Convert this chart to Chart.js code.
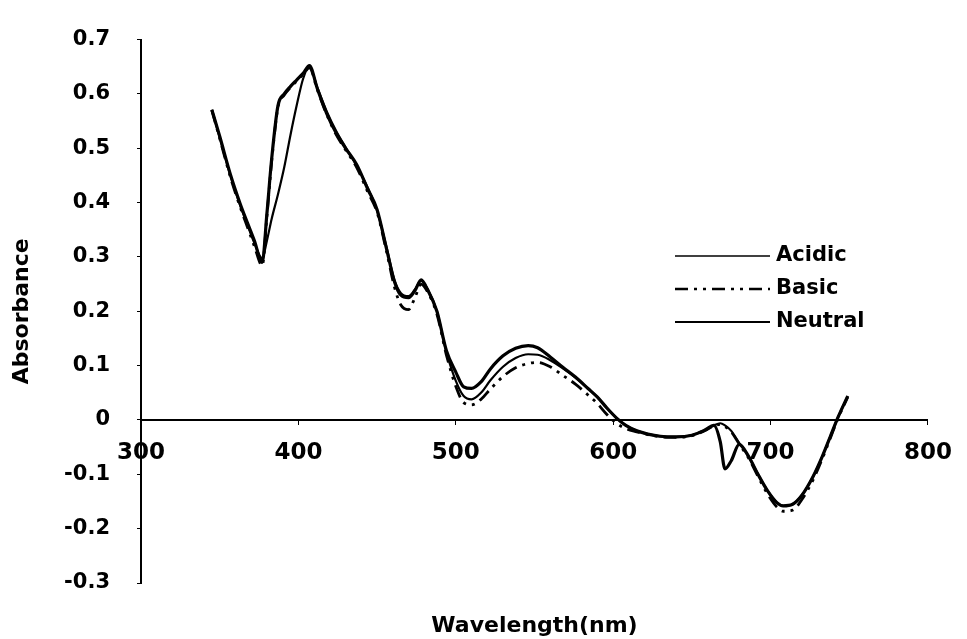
<!DOCTYPE html>
<html>
<head>
<meta charset="utf-8">
<script src="https://cdn.jsdelivr.net/npm/chart.js@4.4.1/dist/chart.umd.min.js"></script>
<style>
  html, body { margin: 0; padding: 0; background: #fff; }
  #wrap { width: 967px; height: 639px; }
</style>
</head>
<body>
<div id="wrap"><canvas id="c" width="967" height="639"></canvas></div>
<script>
// ---- data ----
const wavelengths = [345, 350, 357, 363, 368, 372, 377, 380, 383, 387, 391, 395, 399, 403, 407, 412, 418, 424, 430, 437, 444, 450, 456, 461, 465, 470, 474, 478, 482, 488, 494, 500, 505, 510, 516, 522, 530, 538, 546, 552, 560, 568, 576, 584, 590, 596, 602, 608, 615, 622, 630, 640, 650, 658, 664, 668, 671, 675, 680, 686, 692, 698, 704, 708, 714, 720, 727, 733, 738, 743, 749];

const acidic = [0.571, 0.52, 0.448, 0.395, 0.356, 0.326, 0.298, 0.33, 0.37, 0.415, 0.465, 0.525, 0.58, 0.628, 0.650, 0.612, 0.568, 0.532, 0.502, 0.468, 0.428, 0.385, 0.318, 0.258, 0.234, 0.228, 0.24, 0.256, 0.242, 0.2, 0.125, 0.072, 0.044, 0.038, 0.05, 0.073, 0.098, 0.114, 0.121, 0.12, 0.11, 0.095, 0.078, 0.058, 0.042, 0.022, 0.004, -0.01, -0.02, -0.026, -0.03, -0.031, -0.028, -0.019, -0.01, -0.006, -0.01, -0.02, -0.042, -0.067, -0.1, -0.13, -0.152, -0.158, -0.155, -0.138, -0.104, -0.066, -0.03, 0.006, 0.044];

const basic = [0.57, 0.518, 0.445, 0.392, 0.352, 0.32, 0.284, 0.375, 0.475, 0.575, 0.598, 0.612, 0.624, 0.636, 0.648, 0.608, 0.562, 0.525, 0.497, 0.465, 0.42, 0.382, 0.31, 0.245, 0.212, 0.203, 0.225, 0.25, 0.236, 0.195, 0.12, 0.062, 0.032, 0.028, 0.038, 0.057, 0.08, 0.096, 0.104, 0.106, 0.098, 0.082, 0.066, 0.046, 0.03, 0.01, -0.006, -0.016, -0.022, -0.027, -0.031, -0.032, -0.029, -0.02, -0.011, -0.008, -0.012, -0.022, -0.044, -0.07, -0.104, -0.136, -0.16, -0.168, -0.166, -0.146, -0.11, -0.07, -0.033, 0.004, 0.042];

const neutral = [0.571, 0.522, 0.45, 0.398, 0.36, 0.33, 0.29, 0.38, 0.48, 0.578, 0.6, 0.614, 0.626, 0.638, 0.652, 0.61, 0.564, 0.528, 0.5, 0.47, 0.425, 0.387, 0.315, 0.255, 0.23, 0.225, 0.238, 0.258, 0.24, 0.2, 0.128, 0.088, 0.061, 0.058, 0.07, 0.094, 0.118, 0.132, 0.137, 0.133, 0.116, 0.097, 0.079, 0.058, 0.042, 0.022, 0.004, -0.01, -0.02, -0.026, -0.03, -0.031, -0.028, -0.019, -0.01, -0.04, -0.09, -0.075, -0.045, -0.067, -0.1, -0.13, -0.152, -0.158, -0.155, -0.138, -0.104, -0.066, -0.03, 0.006, 0.044];

const seriesNames = ['Acidic', 'Basic', 'Neutral'];
const xTickRange = [300, 800];
const yTickRange = [-0.3, 0.7];

// ---- build ----
function pts(vals) { return wavelengths.map((w, i) => ({ x: w, y: vals[i] })); }

const FONT = 'DejaVu Sans';
const styles = [
  { borderWidth: 2.2, borderDash: [] },
  { borderWidth: 2.8, borderDash: [13, 6, 3, 6, 3, 6] },
  { borderWidth: 3.2, borderDash: [] }
];
const datasets = [acidic, basic, neutral].map((vals, i) => ({
  label: seriesNames[i],
  data: pts(vals),
  borderColor: '#000',
  backgroundColor: '#000',
  borderWidth: styles[i].borderWidth,
  borderDash: styles[i].borderDash,
  pointRadius: 0,
  fill: false,
  cubicInterpolationMode: 'monotone'
}));

const legendPlugin = {
  id: 'sideLegend',
  afterDraw(chart) {
    const ctx = chart.ctx;
    const rows = [256, 289, 322];
    const lw = [1.5, 2.5, 2];
    ctx.save();
    chart.data.datasets.forEach((ds, i) => {
      const y = rows[i];
      ctx.beginPath();
      ctx.strokeStyle = '#000';
      ctx.lineWidth = lw[i];
      ctx.setLineDash(ds.borderDash || []);
      ctx.moveTo(675, y);
      ctx.lineTo(770, y);
      ctx.stroke();
      ctx.setLineDash([]);
      ctx.fillStyle = '#000';
      ctx.font = 'bold 21px "' + FONT + '"';
      ctx.textBaseline = 'middle';
      ctx.textAlign = 'left';
      ctx.fillText(ds.label, 776, y);
    });
    ctx.restore();
  }
};

new Chart(document.getElementById('c'), {
  type: 'line',
  data: { datasets },
  plugins: [legendPlugin],
  options: {
    responsive: false,
    devicePixelRatio: 1,
    animation: false,
    layout: { padding: { top: 25, right: 29, left: 0, bottom: 0 } },
    plugins: { legend: { display: false }, tooltip: { enabled: false } },
    scales: {
      x: {
        type: 'linear',
        min: xTickRange[0], max: xTickRange[1],
        position: { y: 0 },
        ticks: { stepSize: 100, color: '#000', padding: 15,
                 font: { family: FONT, size: 23, weight: 'bold' } },
        grid: { display: true, drawOnChartArea: false, tickLength: 4, color: '#000' },
        border: { display: true, color: '#000', width: 2 }
      },
      x2: {
        type: 'linear',
        min: xTickRange[0], max: xTickRange[1],
        position: 'bottom',
        ticks: { display: false },
        grid: { display: false },
        border: { display: false },
        title: { display: true, text: 'Wavelength(nm)', color: '#000',
                 padding: { top: 0, bottom: 0 },
                 font: { family: FONT, size: 22, weight: 'bold' } },
        afterFit(scale) { scale.height = 56; }
      },
      y: {
        type: 'linear',
        min: yTickRange[0], max: yTickRange[1],
        position: 'left',
        ticks: { stepSize: 0.1, color: '#000', padding: 27,
                 font: { family: FONT, size: 21, weight: 'bold' } },
        grid: { display: true, drawOnChartArea: false, tickLength: 4, color: '#000' },
        border: { display: true, color: '#000', width: 2 },
        title: { display: true, text: 'Absorbance', color: '#000',
                 padding: { top: 9, bottom: 0 },
                 font: { family: FONT, size: 22, weight: 'bold' } },
        afterFit(scale) { scale.width = 141; }
      }
    }
  }
});
</script>
</body>
</html>
